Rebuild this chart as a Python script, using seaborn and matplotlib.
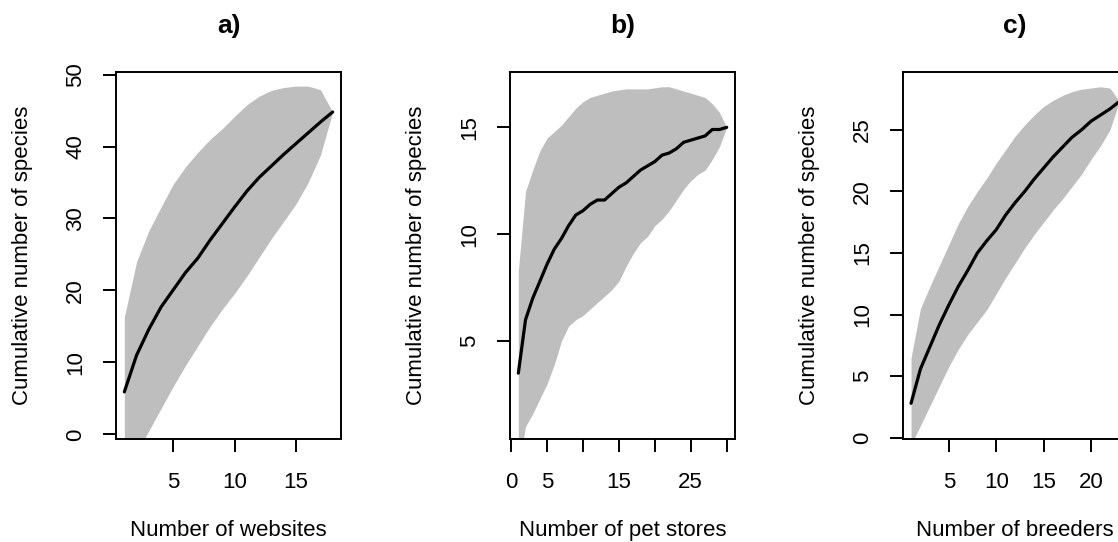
import numpy as np
import pandas as pd
import matplotlib
matplotlib.use("Agg")
import matplotlib.pyplot as plt
import seaborn as sns

# curvas de acumulacion de especies: media y banda (aprox. +/- 2 sd)
sites_a = list(range(1, 19))
mean_a = [5.9, 11.0, 14.6, 17.7, 20.1, 22.5, 24.5, 27.0, 29.3, 31.6, 33.8, 35.7,
          37.3, 38.9, 40.4, 41.9, 43.4, 44.8]
upper_a = [16.3, 24.0, 28.3, 31.6, 34.8, 37.2, 39.2, 41.0, 42.5, 44.2, 45.8, 47.0,
           47.8, 48.2, 48.4, 48.4, 47.9, 44.8]
lower_a = [-4.5, -2.6, 0.5, 3.6, 6.7, 9.6, 12.3, 15.0, 17.4, 19.6, 22.0, 24.6,
           27.2, 29.6, 32.0, 35.0, 38.8, 44.8]

sites_b = list(range(1, 31))
mean_b = [3.5, 6.0, 7.0, 7.8, 8.6, 9.3, 9.8, 10.4, 10.9, 11.1, 11.4, 11.6, 11.6, 11.9,
          12.2, 12.4, 12.7, 13.0, 13.2, 13.4, 13.7, 13.8, 14.0, 14.3, 14.4, 14.5, 14.6,
          14.9, 14.9, 15.0]
upper_b = [8.3, 12.0, 13.0, 13.9, 14.5, 14.8, 15.1, 15.5, 15.9, 16.2, 16.4, 16.5, 16.6,
           16.7, 16.75, 16.8, 16.8, 16.8, 16.8, 16.85, 16.9, 16.9, 16.8, 16.7, 16.6, 16.5,
           16.4, 16.1, 15.7, 15.0]
lower_b = [-0.9, 1.0, 1.6, 2.3, 3.0, 3.9, 5.0, 5.7, 6.0, 6.2, 6.5, 6.8, 7.1, 7.4, 7.8,
           8.5, 9.1, 9.6, 9.9, 10.4, 10.7, 11.1, 11.6, 12.1, 12.5, 12.8, 13.0, 13.5, 14.1,
           15.0]

sites_c = list(range(1, 24))
mean_c = [2.8, 5.6, 7.4, 9.2, 10.8, 12.3, 13.6, 15.0, 16.0, 16.9, 18.1, 19.1, 20.0,
          21.0, 21.9, 22.8, 23.6, 24.4, 25.0, 25.7, 26.2, 26.7, 27.3]
upper_c = [6.5, 10.5, 12.3, 14.0, 15.7, 17.4, 18.8, 20.0, 21.1, 22.3, 23.4, 24.5, 25.4,
           26.2, 26.9, 27.4, 27.8, 28.1, 28.3, 28.4, 28.5, 28.4, 27.3]
lower_c = [-0.6, 1.0, 2.6, 4.2, 5.8, 7.2, 8.4, 9.4, 10.4, 11.7, 13.0, 14.2, 15.4, 16.5,
           17.5, 18.5, 19.4, 20.4, 21.4, 22.6, 23.7, 25.0, 27.3]

titles = ["a)", "b)", "c)"]
xlabels = ["Number of websites", "Number of pet stores", "Number of breeders"]
ylabel = "Cumulative number of species"

sns.set_theme(style="ticks")
plt.rcParams["font.family"] = ["Liberation Sans", "DejaVu Sans"]
plt.rcParams.update({"text.color": "black", "axes.labelcolor": "black",
                     "xtick.color": "black", "ytick.color": "black"})

fig = plt.figure(figsize=(11.18, 5.42), dpi=100)

panels = [
    (sites_a, mean_a, upper_a, lower_a, (0.32, 18.68), (-0.65, 50.36),
     [5, 10, 15], ["5", "10", "15"], [0, 10, 20, 30, 40, 50]),
    (sites_b, mean_b, upper_b, lower_b, (-0.16, 31.16), (0.42, 17.59),
     [0, 5, 10, 15, 20, 25, 30], ["0", "5", "", "15", "", "25", ""], [5, 10, 15]),
    (sites_c, mean_c, upper_c, lower_c, (0.12, 23.88), (-0.1, 29.7),
     [5, 10, 15, 20], ["5", "10", "15", "20"], [0, 5, 10, 15, 20, 25]),
]
lefts = [116 / 1118, 510 / 1118, 902.7 / 1118]

for i, (x, m, up, lo, xl, yl, xt, xtl, yt) in enumerate(panels):
    ax = fig.add_axes([lefts[i], 1 - 439 / 542, 225 / 1118, 367 / 542])
    ax.fill_between(x, lo, up, color="#bebebe", linewidth=0)
    df = pd.DataFrame({"sites": x, "richness": m})
    sns.lineplot(data=df, x="sites", y="richness", ax=ax, color="black", linewidth=2.3)
    ax.set_xlim(*xl)
    ax.set_ylim(*yl)
    ax.set_xticks(xt)
    ax.set_xticklabels(xtl)
    ax.set_yticks(yt)
    ax.set_yticklabels([str(v) for v in yt], rotation=90, va="center")
    for s in ax.spines.values():
        s.set_visible(True)
        s.set_color("black")
        s.set_linewidth(1.4)
    ax.tick_params(axis="both", direction="out", length=9.4, width=1.4,
                   colors="black", labelsize=16)
    ax.tick_params(axis="x", pad=14)
    ax.tick_params(axis="y", pad=12)
    ax.set_xlabel(xlabels[i], fontsize=16, labelpad=19.5)
    ax.set_ylabel(ylabel, fontsize=16, labelpad=23)
    ax.set_title(titles[i], fontsize=19, fontweight="bold", pad=28)
    ax.grid(False)

fig.savefig("out.png", dpi=100)
